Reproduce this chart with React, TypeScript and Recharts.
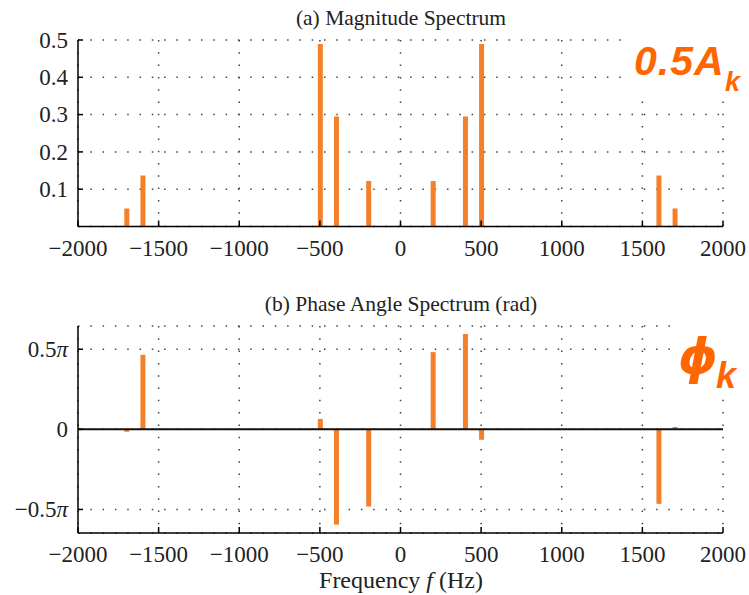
import {
  Bar,
  CartesianGrid,
  ComposedChart,
  ReferenceLine,
  XAxis,
  YAxis,
} from 'recharts';

const frequencies = [-1700, -1600, -500, -400, -200, 200, 400, 500, 1600, 1700];
const magnitudes = [0.048, 0.137, 0.489, 0.295, 0.122, 0.122, 0.295, 0.489, 0.137, 0.048];
// phase in units of pi
const phases = [-0.015, 0.465, 0.065, -0.595, -0.482, 0.482, 0.595, -0.065, -0.465, 0.015];

const freqTicks = [-2000, -1500, -1000, -500, 0, 500, 1000, 1500, 2000];
const magTicks = [0.1, 0.2, 0.3, 0.4, 0.5];
const phaseTicks = [-0.5, 0, 0.5];

const magData = frequencies.map((f, i) => ({ f, value: magnitudes[i] }));
const phaseData = frequencies.map((f, i) => ({ f, value: phases[i] }));

const SERIF = '"Liberation Serif", "DejaVu Serif", serif';
const SANS = '"Liberation Sans", Arial, sans-serif';
const BAR_COLOR = '#F5802A';
const LABEL_COLOR = '#FF6600';
const X_MARGIN = 13;
const Y_MARGIN = 10;
const TICK_FONT = 23;

const fmtNum = (v: number) => (v < 0 ? `\u2212${Math.abs(v)}` : `${v}`);

function XTick({ x, y, payload }: any) {
  const axisY = y - X_MARGIN;
  return (
    <g>
      <line x1={x} x2={x} y1={axisY} y2={axisY - 6} stroke="#000" strokeWidth={1.5} />
      <text x={x} y={y} dy="0.71em" textAnchor="middle" fontFamily={SERIF} fontSize={TICK_FONT} fill="#222">
        {fmtNum(payload.value)}
      </text>
    </g>
  );
}

function MagTick({ x, y, payload }: any) {
  const axisX = x + Y_MARGIN;
  return (
    <g>
      <line x1={axisX} x2={axisX + 5} y1={y} y2={y} stroke="#000" strokeWidth={1.5} />
      <text x={x} y={y} dy="0.34em" textAnchor="end" fontFamily={SERIF} fontSize={TICK_FONT} fill="#222">
        {payload.value}
      </text>
    </g>
  );
}

function PhaseTick({ x, y, payload }: any) {
  const axisX = x + Y_MARGIN;
  const v = payload.value;
  return (
    <g>
      <line x1={axisX} x2={axisX + 5} y1={y} y2={y} stroke="#000" strokeWidth={1.5} />
      <text x={x} y={y} dy="0.34em" textAnchor="end" fontFamily={SERIF} fontSize={TICK_FONT} fill="#222">
        {v === 0 ? (
          '0'
        ) : (
          <>
            <tspan>{v < 0 ? '\u22120.5' : '0.5'}</tspan>
            <tspan fontStyle="italic">π</tspan>
          </>
        )}
      </text>
    </g>
  );
}

const gridProps = {
  stroke: '#444',
  strokeWidth: 1.5,
  strokeDasharray: '1.5 10.8',
};

export default function App() {
  return (
    <div style={{ position: 'absolute', left: 0, top: 0, width: 749, height: 595, background: '#fff' }}>
      <div style={{ position: 'absolute', left: 0, top: 0 }}>
        <ComposedChart width={749} height={270} data={magData} margin={{ top: 40, right: 26, bottom: 13.5, left: 0 }}>
          <CartesianGrid {...gridProps} />
          <XAxis
            dataKey="f"
            type="number"
            domain={[-2000, 2000]}
            ticks={freqTicks}
            allowDataOverflow
            height={30}
            tickSize={0}
            tickMargin={X_MARGIN}
            tick={<XTick />}
            axisLine={{ stroke: '#000', strokeWidth: 1.5 }}
            tickLine={false}
          />
          <YAxis
            type="number"
            domain={[0, 0.5]}
            ticks={magTicks}
            allowDataOverflow
            width={78}
            tickSize={0}
            tickMargin={Y_MARGIN}
            tick={<MagTick />}
            axisLine={{ stroke: '#000', strokeWidth: 1.5 }}
            tickLine={false}
          />
          <Bar dataKey="value" fill={BAR_COLOR} barSize={5} isAnimationActive={false} />
        </ComposedChart>
      </div>
      <div style={{ position: 'absolute', left: 0, top: 280 }}>
        <ComposedChart width={749} height={315} data={phaseData} margin={{ top: 46, right: 26, bottom: 32, left: 0 }}>
          <CartesianGrid {...gridProps} />
          <XAxis
            dataKey="f"
            type="number"
            domain={[-2000, 2000]}
            ticks={freqTicks}
            allowDataOverflow
            height={30}
            tickSize={0}
            tickMargin={X_MARGIN}
            tick={<XTick />}
            axisLine={{ stroke: '#000', strokeWidth: 1.5 }}
            tickLine={false}
          />
          <YAxis
            type="number"
            domain={[-0.647, 0.645]}
            ticks={phaseTicks}
            allowDataOverflow
            width={78}
            tickSize={0}
            tickMargin={Y_MARGIN}
            tick={<PhaseTick />}
            axisLine={{ stroke: '#000', strokeWidth: 1.5 }}
            tickLine={false}
          />
          <Bar dataKey="value" fill={BAR_COLOR} barSize={5} isAnimationActive={false} />
          <ReferenceLine y={0} stroke="#111" strokeWidth={2} />
        </ComposedChart>
      </div>
      <svg width={749} height={595} style={{ position: 'absolute', left: 0, top: 0, pointerEvents: 'none' }}>
        <text x={401} y={25} textAnchor="middle" fontFamily={SERIF} fontSize={21.5} fill="#222">
          (a) Magnitude Spectrum
        </text>
        <text x={401} y={311} textAnchor="middle" fontFamily={SERIF} fontSize={21.5} fill="#222">
          (b) Phase Angle Spectrum (rad)
        </text>
        <text x={401} y={588} textAnchor="middle" fontFamily={SERIF} fontSize={24} fill="#222">
          Frequency <tspan fontStyle="italic">f</tspan> (Hz)
        </text>
        <rect x={622} y={28} width={127} height={72} fill="#fff" />
        <text x={634} y={75} fontFamily={SANS} fontSize={41} fontWeight="bold" fontStyle="italic" letterSpacing={1} fill={LABEL_COLOR}>
          0.5A
        </text>
        <text x={725} y={91} fontFamily={SANS} fontSize={27} fontWeight="bold" fontStyle="italic" fill={LABEL_COLOR}>
          k
        </text>
        <rect x={670} y={324} width={79} height={72} fill="#fff" />
        <text x={678} y={374} fontFamily='"DejaVu Sans", sans-serif' fontSize={50} fontWeight="bold" fontStyle="italic" fill={LABEL_COLOR}>
          ϕ
        </text>
        <text x={716} y={388} fontFamily={SANS} fontSize={36} fontWeight="bold" fontStyle="italic" fill={LABEL_COLOR}>
          k
        </text>
      </svg>
    </div>
  );
}
